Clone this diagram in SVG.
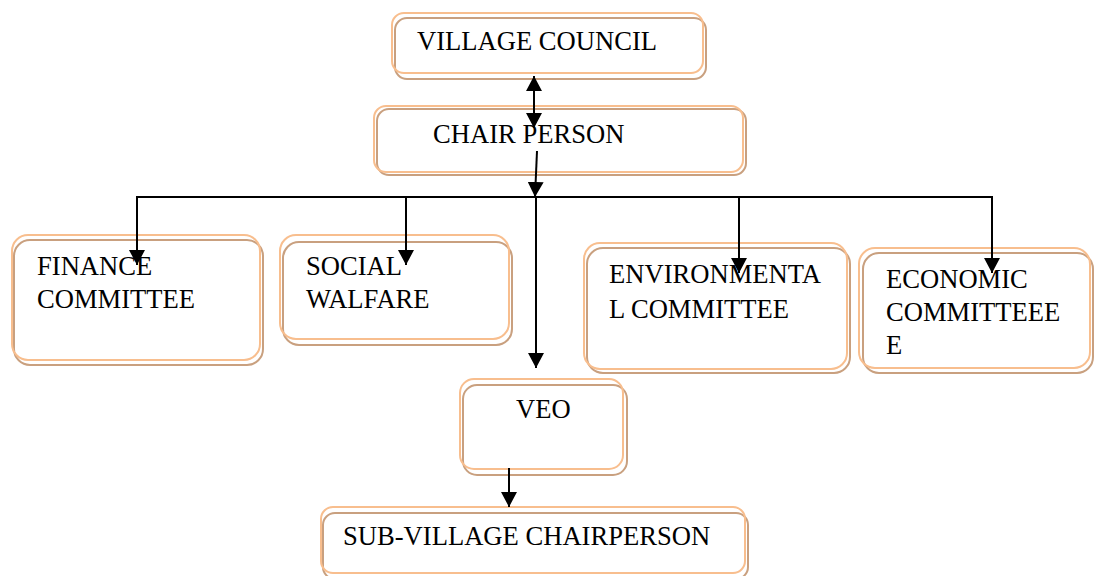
<svg xmlns="http://www.w3.org/2000/svg" width="1106" height="576" viewBox="0 0 1106 576">
<style>
.sh{fill:none;stroke:#C9A07F;stroke-width:2}
.bx{fill:none;stroke:#F8BE8E;stroke-width:2}
.c{fill:none;stroke:#000;stroke-width:2}
</style>
<defs>
<marker id="ah" viewBox="0 0 15 16" refX="15" refY="8" markerWidth="15" markerHeight="16" markerUnits="userSpaceOnUse" orient="auto-start-reverse">
<path d="M0,0 L15,8 L0,16 z" fill="#000"/>
</marker>
</defs>
<rect width="1106" height="576" fill="#FFFFFF"/>
<g font-family="'Liberation Serif', Tinos, 'Times New Roman', 'DejaVu Serif', serif" font-size="26.6" fill="#000">
<g id="village-council">
<rect class="sh" x="395" y="18" width="311" height="61" rx="12"/>
<rect class="bx" x="392" y="13" width="311" height="60" rx="12"/>
<text x="417" y="50">VILLAGE COUNCIL</text>
</g>
<g id="chair-person">
<rect class="sh" x="377" y="109" width="369" height="66" rx="12"/>
<rect class="bx" x="374" y="106" width="369" height="66" rx="12"/>
<text x="433" y="143">CHAIR PERSON</text>
</g>
<g id="finance-committee">
<rect class="sh" x="14" y="240" width="249" height="125" rx="16"/>
<rect class="bx" x="12" y="235" width="248" height="125" rx="16"/>
<text x="37" y="275">FINANCE</text>
<text x="37" y="308">COMMITTEE</text>
</g>
<g id="social-walfare">
<rect class="sh" x="283" y="242" width="229" height="103" rx="16"/>
<rect class="bx" x="280" y="235" width="229" height="104" rx="16"/>
<text x="306" y="275">SOCIAL</text>
<text x="306" y="308">WALFARE</text>
</g>
<g id="environmental-committee">
<rect class="sh" x="587" y="248" width="263" height="125" rx="16"/>
<rect class="bx" x="584" y="243" width="263" height="126" rx="16"/>
<text x="609" y="283">ENVIRONMENTA</text>
<text x="609" y="318">L COMMITTEE</text>
</g>
<g id="economic-committee">
<rect class="sh" x="863" y="253" width="230" height="120" rx="16"/>
<rect class="bx" x="859" y="248" width="231" height="120" rx="16"/>
<text x="886" y="288">ECONOMIC</text>
<text x="886" y="321">COMMITTEEE</text>
<text x="886" y="354">E</text>
</g>
<g id="veo">
<rect class="sh" x="463" y="385" width="164" height="90" rx="14"/>
<rect class="bx" x="460" y="379" width="163" height="90" rx="14"/>
<text x="516" y="418">VEO</text>
</g>
<g id="sub-village-chairperson">
<rect class="sh" x="323" y="513" width="425" height="66" rx="12"/>
<rect class="bx" x="321" y="507" width="424" height="66" rx="12"/>
<text x="343" y="545">SUB-VILLAGE CHAIRPERSON</text>
</g>
</g>
<g id="connectors">
<line class="c" x1="534" y1="76" x2="534" y2="128" marker-start="url(#ah)" marker-end="url(#ah)"/>
<line class="c" x1="537" y1="151" x2="535" y2="197" marker-end="url(#ah)"/>
<polyline class="c" points="137,265 137,197 992,197 992,273" marker-start="url(#ah)" marker-end="url(#ah)"/>
<line class="c" x1="406" y1="197" x2="406" y2="265" marker-end="url(#ah)"/>
<line class="c" x1="536" y1="197" x2="536" y2="368" marker-end="url(#ah)"/>
<line class="c" x1="739" y1="197" x2="739" y2="273" marker-end="url(#ah)"/>
<line class="c" x1="509" y1="468" x2="509" y2="507" marker-end="url(#ah)"/>
</g>
</svg>
